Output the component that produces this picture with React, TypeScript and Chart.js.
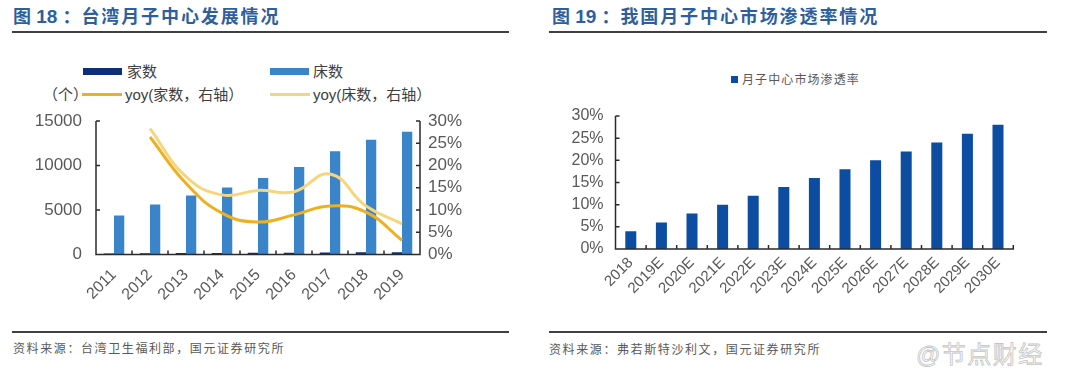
import React, { useEffect, useRef } from 'react';
import { Chart, registerables } from 'chart.js';

Chart.register(...registerables);

// ---------- Data: 图18 台湾月子中心发展情况 ----------
const years18 = ['2011', '2012', '2013', '2014', '2015', '2016', '2017', '2018', '2019'];
const storeCounts = [110, 139, 161, 176, 189, 206, 228, 250, 258]; // 家数
const bedCounts = [4390, 5620, 6620, 7520, 8600, 9820, 11600, 12880, 13800]; // 床数
const storeYoy = [null, 26.4, 16.0, 9.3, 7.3, 8.9, 10.9, 9.5, 3.2]; // yoy(家数)
const bedYoy = [null, 28.3, 17.5, 13.4, 14.4, 14.1, 18.1, 10.9, 6.9]; // yoy(床数)

// ---------- Data: 图19 我国月子中心市场渗透率情况 ----------
const years19 = ['2018', '2019E', '2020E', '2021E', '2022E', '2023E', '2024E', '2025E', '2026E', '2027E', '2028E', '2029E', '2030E'];
const penetration = [4, 6, 8, 10, 12, 14, 16, 18, 20, 22, 24, 26, 28];

const NAVY = '#0D2F7A';
const MID_BLUE = '#3A85CA';
const GOLD = '#EEB020';
const LIGHT_GOLD = '#F7D57A';
const BAR19 = '#0C4DA2';
const TICK_COLOR = '#595959';
const AXIS_COLOR = '#2b2b2b';
const LATIN = "'Liberation Sans', Arial, sans-serif";
const CJK = "'Liberation Sans', 'Noto Sans CJK SC', sans-serif";

const fixWidth = (w: number) => (s: any) => {
  s.width = w;
  s.paddingTop = 0;
  s.paddingBottom = 0;
  s.paddingLeft = 0;
  s.paddingRight = 0;
};
const fixHeight = (h: number) => (s: any) => {
  s.height = h;
  s.paddingTop = 0;
  s.paddingBottom = 0;
  s.paddingLeft = 0;
  s.paddingRight = 0;
};

// Draws axis lines with inward tick marks
const axesPlugin = {
  id: 'inwardAxes',
  afterDatasetsDraw(chart: any, _args: any, opts: any) {
    const { ctx, chartArea: a } = chart;
    const len = 4;
    ctx.save();
    ctx.strokeStyle = AXIS_COLOR;
    ctx.lineWidth = 1.5;
    ctx.beginPath();
    ctx.moveTo(a.left - 0.75, a.bottom);
    ctx.lineTo(a.right + 0.75, a.bottom);
    const n = chart.data.labels.length;
    for (let i = 0; i <= n; i++) {
      const x = a.left + ((a.right - a.left) * i) / n;
      ctx.moveTo(x, a.bottom);
      ctx.lineTo(x, a.bottom - len);
    }
    const y = chart.scales.y;
    ctx.moveTo(a.left, a.top);
    ctx.lineTo(a.left, a.bottom);
    y.ticks.forEach((t: any) => {
      const py = y.getPixelForValue(t.value);
      ctx.moveTo(a.left, py);
      ctx.lineTo(a.left + len, py);
    });
    if (opts && opts.right) {
      const y1 = chart.scales.y1;
      ctx.moveTo(a.right, a.top);
      ctx.lineTo(a.right, a.bottom);
      y1.ticks.forEach((t: any) => {
        const py = y1.getPixelForValue(t.value);
        ctx.moveTo(a.right, py);
        ctx.lineTo(a.right - len, py);
      });
    }
    ctx.stroke();
    ctx.restore();
  },
};

function ChartBox({ config, left, top, width, height }: any) {
  const ref = useRef<HTMLCanvasElement>(null);
  useEffect(() => {
    const chart = new Chart(ref.current as HTMLCanvasElement, config);
    return () => chart.destroy();
  }, []);
  return (
    <div style={{ position: 'absolute', left, top, width, height }}>
      <canvas ref={ref} width={width} height={height} style={{ width, height, display: 'block' }} />
    </div>
  );
}

const noGrid = { display: false, drawTicks: false, drawOnChartArea: false };

const config18: any = {
  type: 'bar',
  data: {
    labels: years18,
    datasets: [
      {
        type: 'line',
        label: 'yoy(家数，右轴）',
        data: storeYoy,
        yAxisID: 'y1',
        borderColor: GOLD,
        borderWidth: 3,
        pointRadius: 0,
        tension: 0.45,
        fill: false,
        order: 0,
      },
      {
        type: 'line',
        label: 'yoy(床数，右轴）',
        data: bedYoy,
        yAxisID: 'y1',
        borderColor: LIGHT_GOLD,
        borderWidth: 3,
        pointRadius: 0,
        tension: 0.45,
        fill: false,
        order: 1,
      },
      {
        label: '家数',
        data: storeCounts,
        backgroundColor: NAVY,
        yAxisID: 'y',
        categoryPercentage: 0.57,
        barPercentage: 1,
        order: 2,
      },
      {
        label: '床数',
        data: bedCounts,
        backgroundColor: MID_BLUE,
        yAxisID: 'y',
        categoryPercentage: 0.57,
        barPercentage: 1,
        order: 3,
      },
    ],
  },
  options: {
    responsive: false,
    animation: false,
    devicePixelRatio: 1,
    layout: { padding: { left: 0, right: 0, top: 21, bottom: 0 } },
    plugins: { legend: { display: false }, tooltip: { enabled: false }, inwardAxes: { right: true } },
    scales: {
      x: {
        grid: noGrid,
        border: { display: false },
        ticks: {
          color: TICK_COLOR,
          font: { family: LATIN, size: 16 },
          minRotation: 45,
          maxRotation: 45,
          padding: 11,
          autoSkip: false,
        },
        afterFit: fixHeight(65.5),
      },
      y: {
        position: 'left',
        min: 0,
        max: 15000,
        grid: noGrid,
        border: { display: false },
        ticks: {
          stepSize: 5000,
          autoSkip: false,
          color: TICK_COLOR,
          font: { family: LATIN, size: 17 },
          padding: 14,
          callback: (v: any) => String(v),
        },
        afterFit: fixWidth(96),
      },
      y1: {
        position: 'right',
        min: 0,
        max: 30,
        grid: noGrid,
        border: { display: false },
        ticks: {
          stepSize: 5,
          autoSkip: false,
          color: TICK_COLOR,
          font: { family: LATIN, size: 17 },
          padding: 8,
          callback: (v: any) => v + '%',
        },
        afterFit: fixWidth(120),
      },
    },
  },
  plugins: [axesPlugin],
};

const config19: any = {
  type: 'bar',
  data: {
    labels: years19,
    datasets: [
      {
        label: '月子中心市场渗透率',
        data: penetration,
        backgroundColor: BAR19,
        categoryPercentage: 1,
        barPercentage: 0.36,
      },
    ],
  },
  options: {
    responsive: false,
    animation: false,
    devicePixelRatio: 1,
    layout: { padding: { left: 0, right: 66.7, top: 16, bottom: 0 } },
    plugins: { legend: { display: false }, tooltip: { enabled: false }, inwardAxes: { right: false } },
    scales: {
      x: {
        grid: noGrid,
        border: { display: false },
        ticks: {
          color: TICK_COLOR,
          font: { family: LATIN, size: 15 },
          minRotation: 45,
          maxRotation: 45,
          padding: 5,
          autoSkip: false,
        },
        afterFit: fixHeight(71),
      },
      y: {
        min: 0,
        max: 30,
        grid: noGrid,
        border: { display: false },
        ticks: {
          stepSize: 5,
          autoSkip: false,
          color: TICK_COLOR,
          font: { family: LATIN, size: 16 },
          padding: 12,
          callback: (v: any) => v + '%',
        },
        afterFit: fixWidth(75.5),
      },
    },
  },
  plugins: [axesPlugin],
};

const abs = (s: any): any => ({ position: 'absolute', margin: 0, whiteSpace: 'nowrap', ...s });

function Title({ left, num, text }: any) {
  return (
    <div
      style={abs({
        left,
        top: 8,
        fontFamily: CJK,
        fontWeight: 700,
        fontSize: 18,
        lineHeight: '18px',
        color: '#2D5F9F',
      })}
    >
      <span>图</span>
      <span style={{ fontFamily: LATIN, fontSize: 19 }}> {num}</span>
      <span style={{ marginLeft: 5 }}>{'：'}</span>
      <span style={{ letterSpacing: '1.9px', marginLeft: 1 }}>{text}</span>
    </div>
  );
}

export default function App() {
  const sourceStyle = {
    fontFamily: CJK,
    fontSize: 12,
    lineHeight: '12px',
    letterSpacing: '1.6px',
    color: '#595959',
  };
  const legendText = {
    fontFamily: CJK,
    fontSize: 15,
    lineHeight: '15px',
    color: '#404040',
  };
  return (
    <div style={{ position: 'absolute', left: 0, top: 0, width: 1080, height: 377, background: '#fff', overflow: 'hidden' }}>
      {/* ===== Left panel ===== */}
      <Title left={13} num="18" text="台湾月子中心发展情况" />
      <div style={abs({ left: 12, top: 31, width: 497, height: 2, background: '#404040' })} />

      <div style={abs({ left: 83, top: 68, width: 39, height: 7, background: NAVY })} />
      <div style={abs({ left: 127, top: 64, ...legendText })}>家数</div>
      <div style={abs({ left: 270, top: 68, width: 39, height: 7, background: MID_BLUE })} />
      <div style={abs({ left: 313, top: 64, ...legendText })}>床数</div>
      <div style={abs({ left: 43, top: 86.5, ...legendText })}>（个）</div>
      <div style={abs({ left: 82, top: 92.5, width: 40, height: 3, background: GOLD })} />
      <div style={abs({ left: 125, top: 86.5, ...legendText })}>yoy(家数，右轴）</div>
      <div style={abs({ left: 270, top: 92.5, width: 40, height: 3, background: LIGHT_GOLD })} />
      <div style={abs({ left: 313, top: 86.5, ...legendText })}>yoy(床数，右轴）</div>

      <ChartBox config={config18} left={0} top={100} width={540} height={220} />

      <div style={abs({ left: 12, top: 331, width: 497, height: 2, background: '#404040' })} />
      <div style={abs({ left: 13, top: 343, ...sourceStyle })}>资料来源：台湾卫生福利部，国元证券研究所</div>

      {/* ===== Right panel ===== */}
      <Title left={552} num="19" text="我国月子中心市场渗透率情况" />
      <div style={abs({ left: 549, top: 31, width: 498, height: 2, background: '#404040' })} />

      <div style={abs({ left: 731, top: 76, width: 7, height: 7, background: BAR19 })} />
      <div style={abs({ left: 742, top: 73.5, fontFamily: CJK, fontSize: 12, lineHeight: '12px', letterSpacing: '1.1px', color: '#595959' })}>
        月子中心市场渗透率
      </div>

      <ChartBox config={config19} left={540} top={100} width={540} height={220} />

      <div style={abs({ left: 549, top: 331, width: 498, height: 2, background: '#404040' })} />
      <div style={abs({ left: 549, top: 344, ...sourceStyle })}>资料来源：弗若斯特沙利文，国元证券研究所</div>
      <div
        style={abs({
          left: 916,
          top: 343,
          fontFamily: CJK,
          fontSize: 24,
          lineHeight: '24px',
          letterSpacing: '1.5px',
          color: '#ffffff',
          WebkitTextStroke: '0.8px #c4c4c4',
        })}
      >
        @节点财经
      </div>
    </div>
  );
}
